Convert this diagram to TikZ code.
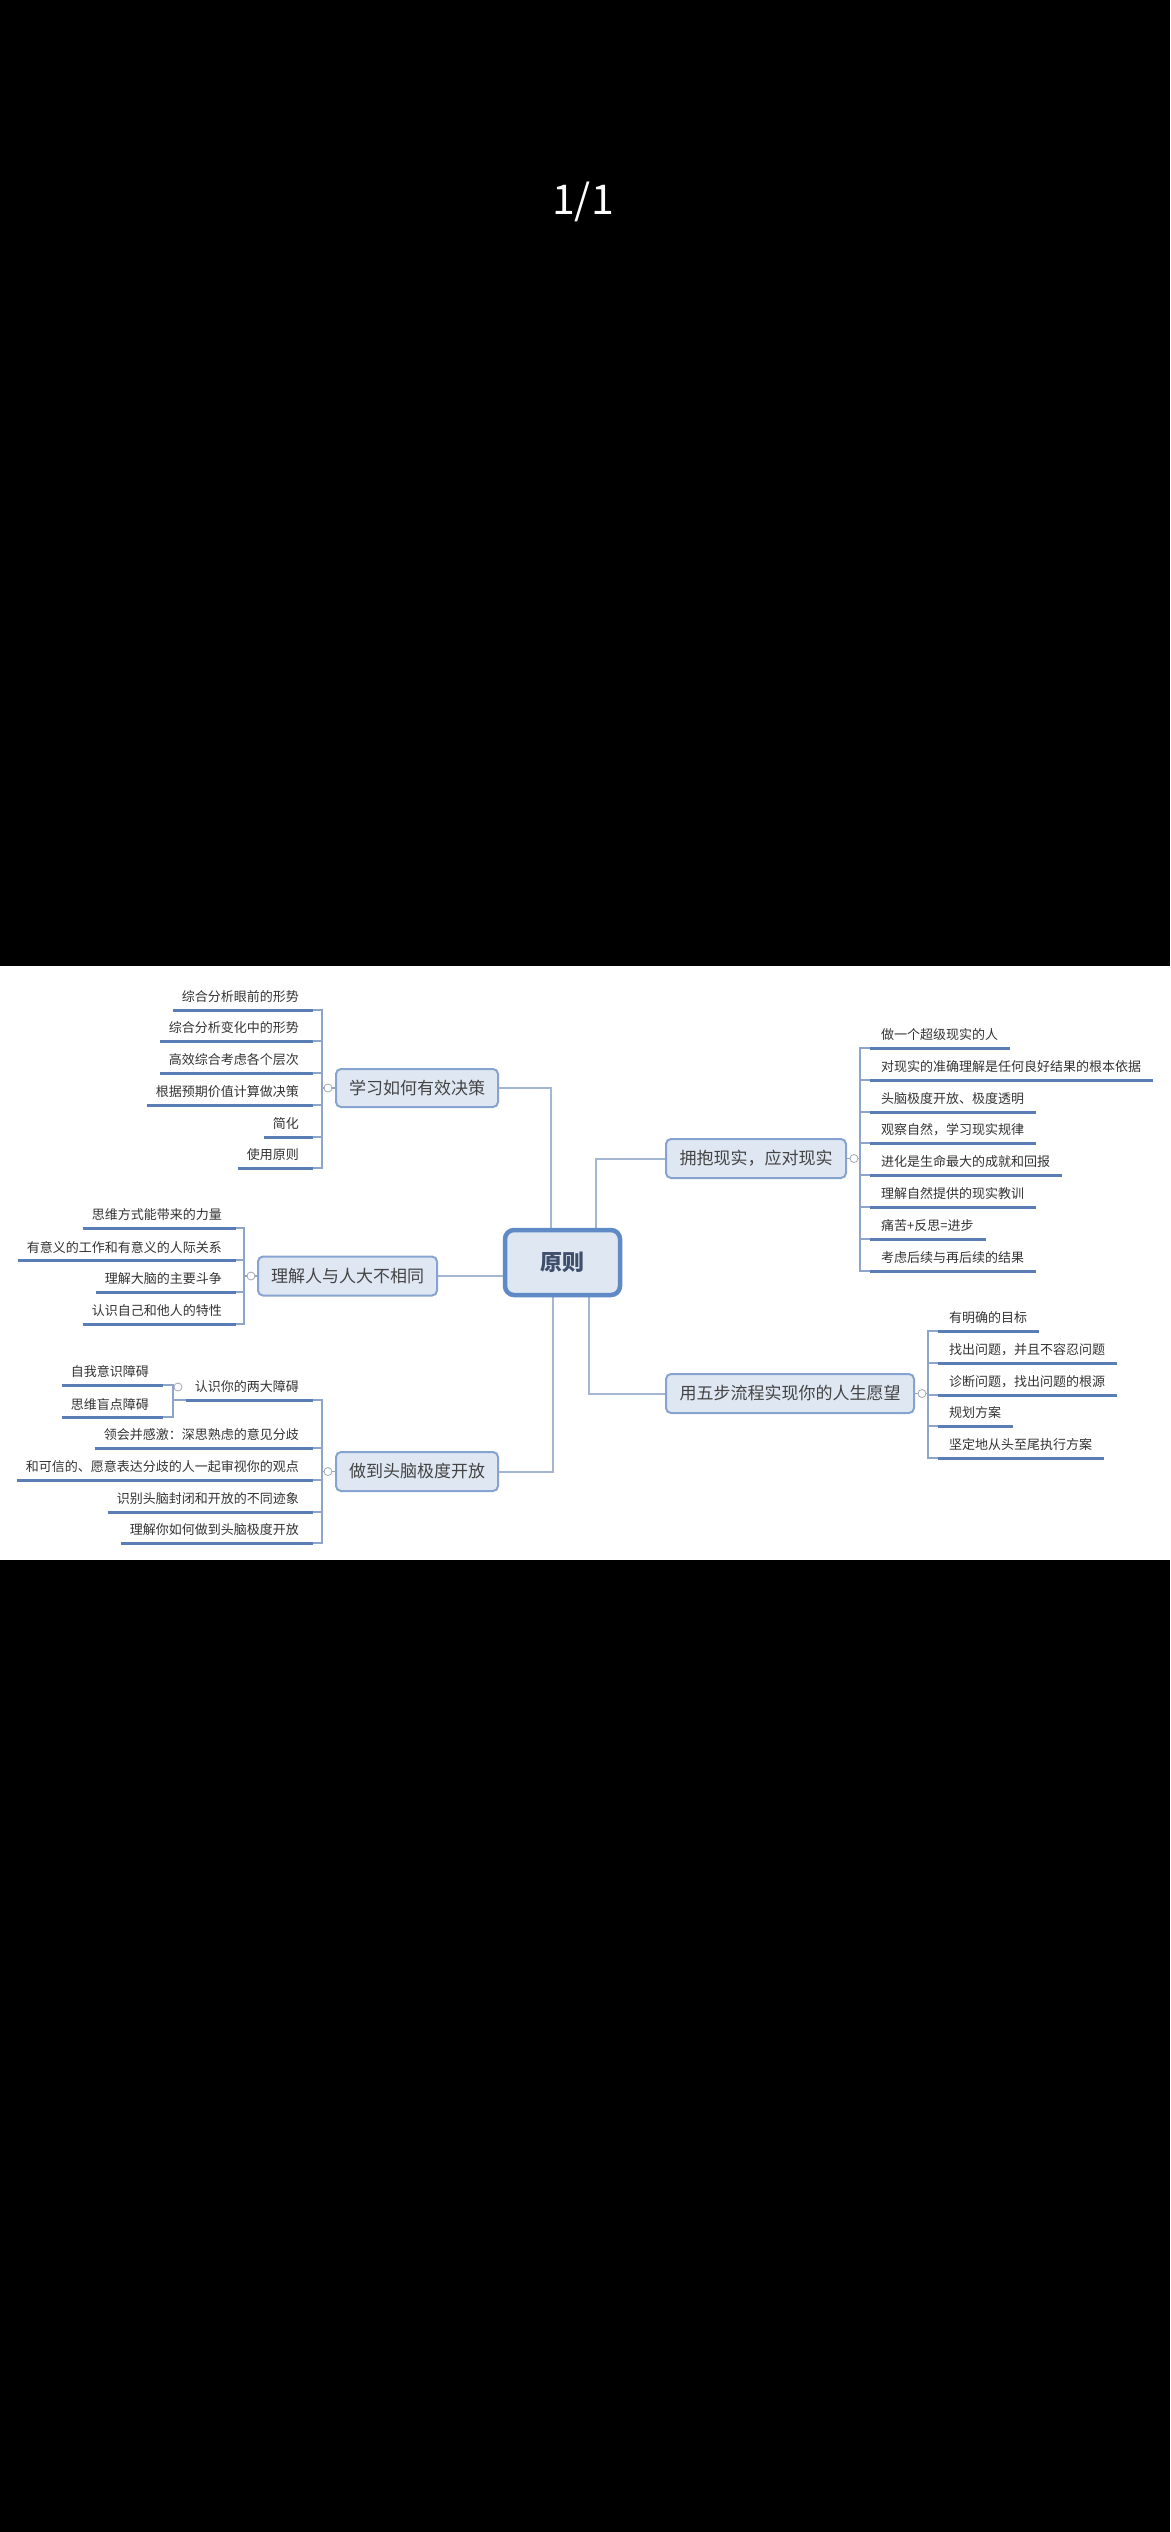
\documentclass[tikz,border=0pt]{standalone}
\usepackage{fontspec}
\setmainfont{Noto Sans CJK SC}
\usetikzlibrary{calc,backgrounds}
\definecolor{ulc}{HTML}{5B7DB6}
\definecolor{connc}{HTML}{8DA5C8}
\definecolor{mconnc}{HTML}{A3B7D2}
\definecolor{topicb}{HTML}{86A4CF}
\definecolor{topicf}{HTML}{DFE7F3}
\definecolor{rootb}{HTML}{5F8AC6}
\definecolor{leafc}{HTML}{333333}
\definecolor{topict}{HTML}{444444}
\definecolor{roott}{HTML}{3E4E6B}
\definecolor{knobc}{HTML}{A0A8B4}
\newcommand\leafL[4]{%
  \node[leaf, anchor=east] (#1) at (#2,#3-13) {#4};
  \draw[uline] ($(#1.west)+(-9,13)$) coordinate (#1l) -- ($(#1.east)+(14,13)$) coordinate (#1r);}
\newcommand\leafR[4]{%
  \node[leaf, anchor=west] (#1) at (#2,#3-13) {#4};
  \draw[uline] ($(#1.west)+(-11,13)$) coordinate (#1l) -- ($(#1.east)+(12,13)$) coordinate (#1r);}
\begin{document}
\begin{tikzpicture}[x=1pt,y=-1pt,
  leaf/.style={font=\fontsize{13}{13}\selectfont, text=leafc, inner sep=0pt},
  uline/.style={draw=ulc, line width=3pt},
  conn/.style={draw=connc, line width=1.2pt},
  mconn/.style={draw=mconnc, line width=2pt},
  topic/.style={draw=topicb, line width=2pt, fill=topicf, rounded corners=5pt,
    font=\fontsize{17}{17}\selectfont, text=topict, inner sep=0pt},
  rootbox/.style={draw=rootb, line width=4.5pt, fill=topicf, rounded corners=9pt,
    font=\fontsize{22}{22}\selectfont\bfseries, text=roott, inner sep=0pt,
    minimum width=115pt, minimum height=65pt},
  knob/.style={circle, draw=knobc, fill=white, line width=0.8pt, minimum size=8pt, inner sep=0pt}]
\begin{scope}[on background layer]
  \fill[black] (0,0) rectangle (1170,2532);
  \fill[white] (0,966) rectangle (1170,1560);
\end{scope}
\useasboundingbox (0,0) rectangle (1170,2532);
\node[text=white, font=\fontsize{41}{41}\selectfont] (page) at (583,202) {1/1};

% central and main topics
\node[rootbox] (root) at (562.5,1262.5) {原则};
\node[topic, minimum width=162pt, minimum height=38pt] (learn) at (417,1088) {学习如何有效决策};
\node[topic, minimum width=179pt, minimum height=39pt] (diff) at (347.5,1276) {理解人与人大不相同};
\node[topic, minimum width=162pt, minimum height=39pt] (open) at (417,1471.5) {做到头脑极度开放};
\node[topic, minimum width=180pt, minimum height=39pt] (embrace) at (756,1158.5) {拥抱现实，应对现实};
\node[topic, minimum width=248pt, minimum height=39pt] (five) at (790,1393.5) {用五步流程实现你的人生愿望};

% group A
\leafL{a1}{299}{1010}{综合分析眼前的形势}
\leafL{a2}{299}{1041}{综合分析变化中的形势}
\leafL{a3}{299}{1073}{高效综合考虑各个层次}
\leafL{a4}{299}{1105}{根据预期价值计算做决策}
\leafL{a5}{299}{1137}{简化}
\leafL{a6}{299}{1168}{使用原则}
% group B
\leafL{b1}{222}{1228}{思维方式能带来的力量}
\leafL{b2}{222}{1260}{有意义的工作和有意义的人际关系}
\leafL{b3}{222}{1292}{理解大脑的主要斗争}
\leafL{b4}{222}{1324}{认识自己和他人的特性}
% group D
\leafL{d1}{299}{1400}{认识你的两大障碍}
\leafL{d2}{299}{1448}{领会并感激：深思熟虑的意见分歧}
\leafL{d3}{299}{1480}{和可信的、愿意表达分歧的人一起审视你的观点}
\leafL{d4}{299}{1512}{识别头脑封闭和开放的不同迹象}
\leafL{d5}{299}{1543}{理解你如何做到头脑极度开放}
\leafL{s1}{149}{1385}{自我意识障碍}
\leafL{s2}{149}{1417}{思维盲点障碍}
% group C
\leafR{c1}{881}{1048}{做一个超级现实的人}
\leafR{c2}{881}{1080}{对现实的准确理解是任何良好结果的根本依据}
\leafR{c3}{881}{1112}{头脑极度开放、极度透明}
\leafR{c4}{881}{1143}{观察自然，学习现实规律}
\leafR{c5}{881}{1175}{进化是生命最大的成就和回报}
\leafR{c6}{881}{1207}{理解自然提供的现实教训}
\leafR{c7}{881}{1239}{痛苦+反思=进步}
\leafR{c8}{881}{1271}{考虑后续与再后续的结果}
% group E
\leafR{e1}{949}{1331}{有明确的目标}
\leafR{e2}{949}{1363}{找出问题，并且不容忍问题}
\leafR{e3}{949}{1395}{诊断问题，找出问题的根源}
\leafR{e4}{949}{1426}{规划方案}
\leafR{e5}{949}{1458}{坚定地从头至尾执行方案}

\coordinate (busA) at (322,1088);
\coordinate (busB) at (244,1276);
\coordinate (busD) at (322,1471.5);
\coordinate (busS) at (173,1400);
\coordinate (busC) at (860,1158.5);
\coordinate (busE) at (928,1393.5);

\begin{scope}[on background layer]
  \draw[mconn] ([xshift=-11.5pt]root.north) |- (learn.east);
  \draw[mconn] ([xshift=33.5pt]root.north) |- (embrace.west);
  \draw[mconn] (root.west |- diff.east) -- (diff.east);
  \draw[mconn] ([xshift=-9.5pt]root.south) |- (open.east);
  \draw[mconn] ([xshift=26.5pt]root.south) |- (five.west);
  \draw[conn] (learn.west) -- (busA);
  \foreach \n in {a1,a2,a3,a4,a5,a6} \draw[conn] (busA) |- (\n r);
  \draw[conn] (diff.west) -- (busB);
  \foreach \n in {b1,b2,b3,b4} \draw[conn] (busB) |- (\n r);
  \draw[conn] (open.west) -- (busD);
  \foreach \n in {d1,d2,d3,d4,d5} \draw[conn] (busD) |- (\n r);
  \draw[conn] (d1l) -- (busS);
  \foreach \n in {s1,s2} \draw[conn] (busS) |- (\n r);
  \draw[conn] (embrace.east) -- (busC);
  \foreach \n in {c1,c2,c3,c4,c5,c6,c7,c8} \draw[conn] (busC) |- (\n l);
  \draw[conn] (five.east) -- (busE);
  \foreach \n in {e1,e2,e3,e4,e5} \draw[conn] (busE) |- (\n l);
\end{scope}

\node[knob] (kA) at (328,1088) {};
\node[knob] (kB) at (251,1276) {};
\node[knob] (kD) at (328,1471.5) {};
\node[knob] (kS) at (178,1387) {};
\node[knob] (kC) at (854,1158.5) {};
\node[knob] (kE) at (922,1393.5) {};
\end{tikzpicture}
\end{document}
